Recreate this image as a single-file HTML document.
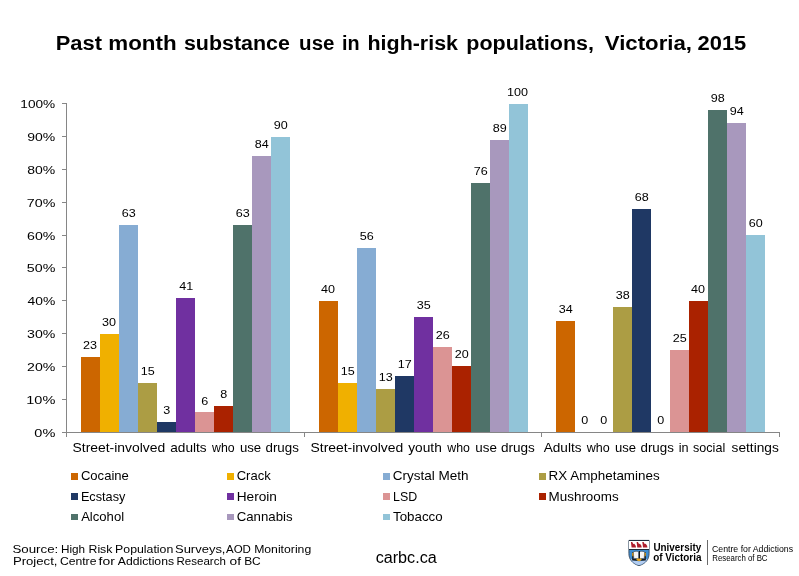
<!DOCTYPE html>
<html><head><meta charset="utf-8"><title>Past month substance use in high-risk populations, Victoria, 2015</title>
<style>
html,body{margin:0;padding:0;background:#fff;}
body{width:799px;height:576px;overflow:hidden;font-family:"Liberation Sans", sans-serif;}
svg{display:block;font-family:"Liberation Sans", sans-serif;will-change:transform;}
svg rect{shape-rendering:crispEdges;}
svg text{fill:#000;}
</style></head><body>
<svg width="799" height="576" viewBox="0 0 799 576">
<g id="axes-bars">
<rect x="66" y="103" width="1" height="334" fill="#868686"/>
<rect x="62" y="432" width="718" height="1" fill="#868686"/>
<rect x="62" y="432" width="4" height="1" fill="#868686"/>
<rect x="62" y="399" width="4" height="1" fill="#868686"/>
<rect x="62" y="366" width="4" height="1" fill="#868686"/>
<rect x="62" y="333" width="4" height="1" fill="#868686"/>
<rect x="62" y="300" width="4" height="1" fill="#868686"/>
<rect x="62" y="267" width="4" height="1" fill="#868686"/>
<rect x="62" y="235" width="4" height="1" fill="#868686"/>
<rect x="62" y="202" width="4" height="1" fill="#868686"/>
<rect x="62" y="169" width="4" height="1" fill="#868686"/>
<rect x="62" y="136" width="4" height="1" fill="#868686"/>
<rect x="62" y="103" width="4" height="1" fill="#868686"/>
<rect x="304" y="432" width="1" height="5" fill="#868686"/>
<rect x="541" y="432" width="1" height="5" fill="#868686"/>
<rect x="779" y="432" width="1" height="5" fill="#868686"/>
<rect x="81" y="357" width="19" height="75" fill="#CC6600"/>
<rect x="100" y="334" width="19" height="98" fill="#F0B000"/>
<rect x="119" y="225" width="19" height="207" fill="#86ACD3"/>
<rect x="138" y="383" width="19" height="49" fill="#AC9D44"/>
<rect x="157" y="422" width="19" height="10" fill="#1F3864"/>
<rect x="176" y="298" width="19" height="134" fill="#7030A0"/>
<rect x="195" y="412" width="19" height="20" fill="#DB9494"/>
<rect x="214" y="406" width="19" height="26" fill="#AA2200"/>
<rect x="233" y="225" width="19" height="207" fill="#4F726A"/>
<rect x="252" y="156" width="19" height="276" fill="#A898BD"/>
<rect x="271" y="137" width="19" height="295" fill="#92C4D8"/>
<rect x="319" y="301" width="19" height="131" fill="#CC6600"/>
<rect x="338" y="383" width="19" height="49" fill="#F0B000"/>
<rect x="357" y="248" width="19" height="184" fill="#86ACD3"/>
<rect x="376" y="389" width="19" height="43" fill="#AC9D44"/>
<rect x="395" y="376" width="19" height="56" fill="#1F3864"/>
<rect x="414" y="317" width="19" height="115" fill="#7030A0"/>
<rect x="433" y="347" width="19" height="85" fill="#DB9494"/>
<rect x="452" y="366" width="19" height="66" fill="#AA2200"/>
<rect x="471" y="183" width="19" height="249" fill="#4F726A"/>
<rect x="490" y="140" width="19" height="292" fill="#A898BD"/>
<rect x="509" y="104" width="19" height="328" fill="#92C4D8"/>
<rect x="556" y="321" width="19" height="111" fill="#CC6600"/>
<rect x="613" y="307" width="19" height="125" fill="#AC9D44"/>
<rect x="632" y="209" width="19" height="223" fill="#1F3864"/>
<rect x="670" y="350" width="19" height="82" fill="#DB9494"/>
<rect x="689" y="301" width="19" height="131" fill="#AA2200"/>
<rect x="708" y="110" width="19" height="322" fill="#4F726A"/>
<rect x="727" y="123" width="19" height="309" fill="#A898BD"/>
<rect x="746" y="235" width="19" height="197" fill="#92C4D8"/>
<rect x="71" y="473" width="7" height="7" fill="#CC6600"/>
<rect x="227" y="473" width="7" height="7" fill="#F0B000"/>
<rect x="383" y="473" width="7" height="7" fill="#86ACD3"/>
<rect x="539" y="473" width="7" height="7" fill="#AC9D44"/>
<rect x="71" y="493" width="7" height="7" fill="#1F3864"/>
<rect x="227" y="493" width="7" height="7" fill="#7030A0"/>
<rect x="383" y="493" width="7" height="7" fill="#DB9494"/>
<rect x="539" y="493" width="7" height="7" fill="#AA2200"/>
<rect x="71" y="514" width="7" height="6" fill="#4F726A"/>
<rect x="227" y="514" width="7" height="6" fill="#A898BD"/>
<rect x="383" y="514" width="7" height="6" fill="#92C4D8"/>
</g>
<g id="data-labels">
<text x="83.0" y="349" font-size="11.2" textLength="14" lengthAdjust="spacingAndGlyphs">23</text>
<text x="102.0" y="326" font-size="11.2" textLength="14" lengthAdjust="spacingAndGlyphs">30</text>
<text x="121.7" y="217" font-size="11.2" textLength="14" lengthAdjust="spacingAndGlyphs">63</text>
<text x="140.7" y="375" font-size="11.2" textLength="14" lengthAdjust="spacingAndGlyphs">15</text>
<text x="163.2" y="414" font-size="11.2" textLength="7" lengthAdjust="spacingAndGlyphs">3</text>
<text x="179.3" y="290" font-size="11.2" textLength="14" lengthAdjust="spacingAndGlyphs">41</text>
<text x="201.2" y="405" font-size="11.2" textLength="7" lengthAdjust="spacingAndGlyphs">6</text>
<text x="220.2" y="398" font-size="11.2" textLength="7" lengthAdjust="spacingAndGlyphs">8</text>
<text x="235.7" y="217" font-size="11.2" textLength="14" lengthAdjust="spacingAndGlyphs">63</text>
<text x="254.7" y="148" font-size="11.2" textLength="14" lengthAdjust="spacingAndGlyphs">84</text>
<text x="273.7" y="129" font-size="11.2" textLength="14" lengthAdjust="spacingAndGlyphs">90</text>
<text x="321.0" y="293" font-size="11.2" textLength="14" lengthAdjust="spacingAndGlyphs">40</text>
<text x="340.7" y="375" font-size="11.2" textLength="14" lengthAdjust="spacingAndGlyphs">15</text>
<text x="359.7" y="240" font-size="11.2" textLength="14" lengthAdjust="spacingAndGlyphs">56</text>
<text x="378.7" y="381" font-size="11.2" textLength="14" lengthAdjust="spacingAndGlyphs">13</text>
<text x="397.7" y="368" font-size="11.2" textLength="14" lengthAdjust="spacingAndGlyphs">17</text>
<text x="416.7" y="309" font-size="11.2" textLength="14" lengthAdjust="spacingAndGlyphs">35</text>
<text x="435.7" y="339" font-size="11.2" textLength="14" lengthAdjust="spacingAndGlyphs">26</text>
<text x="454.7" y="358" font-size="11.2" textLength="14" lengthAdjust="spacingAndGlyphs">20</text>
<text x="473.7" y="175" font-size="11.2" textLength="14" lengthAdjust="spacingAndGlyphs">76</text>
<text x="492.7" y="132" font-size="11.2" textLength="14" lengthAdjust="spacingAndGlyphs">89</text>
<text x="507.0" y="96" font-size="11.2" textLength="21" lengthAdjust="spacingAndGlyphs">100</text>
<text x="558.7" y="313" font-size="11.2" textLength="14" lengthAdjust="spacingAndGlyphs">34</text>
<text x="581.2" y="424" font-size="11.2" textLength="7" lengthAdjust="spacingAndGlyphs">0</text>
<text x="600.2" y="424" font-size="11.2" textLength="7" lengthAdjust="spacingAndGlyphs">0</text>
<text x="615.7" y="299" font-size="11.2" textLength="14" lengthAdjust="spacingAndGlyphs">38</text>
<text x="634.7" y="201" font-size="11.2" textLength="14" lengthAdjust="spacingAndGlyphs">68</text>
<text x="657.2" y="424" font-size="11.2" textLength="7" lengthAdjust="spacingAndGlyphs">0</text>
<text x="672.7" y="342" font-size="11.2" textLength="14" lengthAdjust="spacingAndGlyphs">25</text>
<text x="691.0" y="293" font-size="11.2" textLength="14" lengthAdjust="spacingAndGlyphs">40</text>
<text x="710.7" y="102" font-size="11.2" textLength="14" lengthAdjust="spacingAndGlyphs">98</text>
<text x="729.7" y="115" font-size="11.2" textLength="14" lengthAdjust="spacingAndGlyphs">94</text>
<text x="748.7" y="227" font-size="11.2" textLength="14" lengthAdjust="spacingAndGlyphs">60</text>
</g>
<g id="labels">
<text x="55.70" y="49.5" font-size="20" font-weight="bold" textLength="46.25" lengthAdjust="spacingAndGlyphs">Past</text>
<text x="108.25" y="49.5" font-size="20" font-weight="bold" textLength="68.30" lengthAdjust="spacingAndGlyphs">month</text>
<text x="183.95" y="49.5" font-size="20" font-weight="bold" textLength="106.01" lengthAdjust="spacingAndGlyphs">substance</text>
<text x="299.10" y="49.5" font-size="20" font-weight="bold" textLength="35.36" lengthAdjust="spacingAndGlyphs">use</text>
<text x="341.90" y="49.5" font-size="20" font-weight="bold" textLength="17.59" lengthAdjust="spacingAndGlyphs">in</text>
<text x="367.50" y="49.5" font-size="20" font-weight="bold" textLength="90.50" lengthAdjust="spacingAndGlyphs">high-risk</text>
<text x="466.25" y="49.5" font-size="20" font-weight="bold" textLength="127.75" lengthAdjust="spacingAndGlyphs">populations,</text>
<text x="604.75" y="49.5" font-size="20" font-weight="bold" textLength="87.25" lengthAdjust="spacingAndGlyphs">Victoria,</text>
<text x="697.51" y="49.5" font-size="20" font-weight="bold" textLength="48.78" lengthAdjust="spacingAndGlyphs">2015</text>
<text x="34.30" y="436.6" font-size="11.2" textLength="21.00" lengthAdjust="spacingAndGlyphs">0%</text>
<text x="26.29" y="403.6" font-size="11.2" textLength="29.07" lengthAdjust="spacingAndGlyphs">10%</text>
<text x="27.05" y="370.6" font-size="11.2" textLength="28.26" lengthAdjust="spacingAndGlyphs">20%</text>
<text x="27.05" y="337.6" font-size="11.2" textLength="28.26" lengthAdjust="spacingAndGlyphs">30%</text>
<text x="27.55" y="304.6" font-size="11.2" textLength="27.74" lengthAdjust="spacingAndGlyphs">40%</text>
<text x="26.80" y="271.6" font-size="11.2" textLength="28.53" lengthAdjust="spacingAndGlyphs">50%</text>
<text x="27.05" y="239.6" font-size="11.2" textLength="28.26" lengthAdjust="spacingAndGlyphs">60%</text>
<text x="26.80" y="206.6" font-size="11.2" textLength="28.53" lengthAdjust="spacingAndGlyphs">70%</text>
<text x="27.30" y="173.6" font-size="11.2" textLength="28.00" lengthAdjust="spacingAndGlyphs">80%</text>
<text x="27.30" y="140.6" font-size="11.2" textLength="28.00" lengthAdjust="spacingAndGlyphs">90%</text>
<text x="20.35" y="107.6" font-size="11.2" textLength="34.88" lengthAdjust="spacingAndGlyphs">100%</text>
<text x="72.50" y="451.7" font-size="12.2" textLength="92.80" lengthAdjust="spacingAndGlyphs">Street-involved</text>
<text x="170.30" y="451.7" font-size="12.2" textLength="36.36" lengthAdjust="spacingAndGlyphs">adults</text>
<text x="212.00" y="451.7" font-size="12.2" textLength="22.59" lengthAdjust="spacingAndGlyphs">who</text>
<text x="239.95" y="451.7" font-size="12.2" textLength="21.24" lengthAdjust="spacingAndGlyphs">use</text>
<text x="265.50" y="451.7" font-size="12.2" textLength="33.36" lengthAdjust="spacingAndGlyphs">drugs</text>
<text x="310.50" y="451.7" font-size="12.2" textLength="92.80" lengthAdjust="spacingAndGlyphs">Street-involved</text>
<text x="408.25" y="451.7" font-size="12.2" textLength="33.54" lengthAdjust="spacingAndGlyphs">youth</text>
<text x="447.30" y="451.7" font-size="12.2" textLength="22.59" lengthAdjust="spacingAndGlyphs">who</text>
<text x="475.25" y="451.7" font-size="12.2" textLength="21.60" lengthAdjust="spacingAndGlyphs">use</text>
<text x="500.90" y="451.7" font-size="12.2" textLength="33.86" lengthAdjust="spacingAndGlyphs">drugs</text>
<text x="543.75" y="451.7" font-size="12.2" textLength="37.74" lengthAdjust="spacingAndGlyphs">Adults</text>
<text x="586.70" y="451.7" font-size="12.2" textLength="22.99" lengthAdjust="spacingAndGlyphs">who</text>
<text x="614.95" y="451.7" font-size="12.2" textLength="21.05" lengthAdjust="spacingAndGlyphs">use</text>
<text x="640.50" y="451.7" font-size="12.2" textLength="33.36" lengthAdjust="spacingAndGlyphs">drugs</text>
<text x="678.65" y="451.7" font-size="12.2" textLength="9.88" lengthAdjust="spacingAndGlyphs">in</text>
<text x="693.10" y="451.7" font-size="12.2" textLength="32.10" lengthAdjust="spacingAndGlyphs">social</text>
<text x="731.55" y="451.7" font-size="12.2" textLength="47.26" lengthAdjust="spacingAndGlyphs">settings</text>
<text x="80.90" y="479.7" font-size="12.2" textLength="47.95" lengthAdjust="spacingAndGlyphs">Cocaine</text>
<text x="236.70" y="479.7" font-size="12.2" textLength="33.99" lengthAdjust="spacingAndGlyphs">Crack</text>
<text x="392.80" y="479.7" font-size="12.2" textLength="75.80" lengthAdjust="spacingAndGlyphs">Crystal Meth</text>
<text x="548.60" y="479.7" font-size="12.2" textLength="111.00" lengthAdjust="spacingAndGlyphs">RX Amphetamines</text>
<text x="80.90" y="500.55" font-size="12.2" textLength="44.44" lengthAdjust="spacingAndGlyphs">Ecstasy</text>
<text x="236.70" y="500.55" font-size="12.2" textLength="40.25" lengthAdjust="spacingAndGlyphs">Heroin</text>
<text x="393.05" y="500.55" font-size="12.2" textLength="24.15" lengthAdjust="spacingAndGlyphs">LSD</text>
<text x="548.60" y="500.55" font-size="12.2" textLength="70.05" lengthAdjust="spacingAndGlyphs">Mushrooms</text>
<text x="81.15" y="520.55" font-size="12.2" textLength="42.94" lengthAdjust="spacingAndGlyphs">Alcohol</text>
<text x="236.70" y="520.55" font-size="12.2" textLength="55.90" lengthAdjust="spacingAndGlyphs">Cannabis</text>
<text x="393.05" y="520.55" font-size="12.2" textLength="49.65" lengthAdjust="spacingAndGlyphs">Tobacco</text>
<text x="12.40" y="552.7" font-size="11.2" textLength="45.87" lengthAdjust="spacingAndGlyphs">Source:</text>
<text x="60.95" y="552.7" font-size="11.2" textLength="24.14" lengthAdjust="spacingAndGlyphs">High</text>
<text x="88.50" y="552.7" font-size="11.2" textLength="23.94" lengthAdjust="spacingAndGlyphs">Risk</text>
<text x="115.10" y="552.7" font-size="11.2" textLength="58.20" lengthAdjust="spacingAndGlyphs">Population</text>
<text x="175.00" y="552.7" font-size="11.2" textLength="50.49" lengthAdjust="spacingAndGlyphs">Surveys,</text>
<text x="226.00" y="552.7" font-size="11.2" textLength="24.94" lengthAdjust="spacingAndGlyphs">AOD</text>
<text x="254.15" y="552.7" font-size="11.2" textLength="57.04" lengthAdjust="spacingAndGlyphs">Monitoring</text>
<text x="12.90" y="564.5" font-size="11.2" textLength="44.61" lengthAdjust="spacingAndGlyphs">Project,</text>
<text x="59.90" y="564.5" font-size="11.2" textLength="36.55" lengthAdjust="spacingAndGlyphs">Centre</text>
<text x="98.50" y="564.5" font-size="11.2" textLength="16.29" lengthAdjust="spacingAndGlyphs">for</text>
<text x="117.75" y="564.5" font-size="11.2" textLength="56.30" lengthAdjust="spacingAndGlyphs">Addictions</text>
<text x="176.50" y="564.5" font-size="11.2" textLength="49.30" lengthAdjust="spacingAndGlyphs">Research</text>
<text x="229.50" y="564.5" font-size="11.2" textLength="11.48" lengthAdjust="spacingAndGlyphs">of</text>
<text x="244.15" y="564.5" font-size="11.2" textLength="16.55" lengthAdjust="spacingAndGlyphs">BC</text>
<text x="375.65" y="562.6" font-size="15.6" textLength="61.10" lengthAdjust="spacingAndGlyphs">carbc.ca</text>
<text x="653.45" y="550.9" font-size="10.6" font-weight="bold" fill="#111" textLength="47.79" lengthAdjust="spacingAndGlyphs">University</text>
<text x="653.20" y="560.7" font-size="10.6" font-weight="bold" fill="#111" textLength="48.30" lengthAdjust="spacingAndGlyphs">of Victoria</text>
<text x="712.00" y="551.7" font-size="8.8" fill="#333" textLength="81.10" lengthAdjust="spacingAndGlyphs">Centre for Addictions</text>
<text x="712.25" y="560.5" font-size="8.8" fill="#333" textLength="55.25" lengthAdjust="spacingAndGlyphs">Research of BC</text>
</g>
<g id="logo">
<!-- shield -->
<path d="M628.9 540.4 H649.1 V553.5 C649.1 559.5 645.5 563.6 639 565.7 C632.5 563.6 628.9 559.5 628.9 553.5 Z" fill="#3d8cd0" stroke="#3a4a5c" stroke-width="0.9"/>
<path d="M630.4 558.2 C633 560.4 636 561.2 639 561.2 C642 561.2 645 560.4 647.6 558.2 C646.2 562 643 564 639 565.2 C635 564 631.8 562 630.4 558.2 Z" fill="#b3cdf1"/>
<rect x="629.4" y="540.9" width="19.2" height="8" fill="#ffffff"/>
<rect x="628.6" y="540" width="20.8" height="0.9" fill="#1f2c3c"/>
<rect x="629" y="548.6" width="20" height="0.9" fill="#1b2838"/>
<!-- martlets -->
<g fill="#ae1e2d">
<path d="M630.9 542 L632.2 542 L633.3 543.9 L634.3 543.7 L635.7 545.7 L636 547.5 L631.6 547.5 Z"/>
<path d="M636.6 542 L637.9 542 L639 543.9 L640 543.7 L641.4 545.7 L641.7 547.5 L637.3 547.5 Z"/>
<path d="M642.3 542 L643.6 542 L644.7 543.9 L645.7 543.7 L647.1 545.7 L647.4 547.5 L643 547.5 Z"/>
</g>
<!-- book -->
<path d="M632.1 552.6 L633.2 552.2 L633.5 558.8 L638.2 559.5 L639.8 559.5 L644.5 558.8 L644.8 552.2 L645.9 552.6 L645.8 560.4 L639.8 560.8 L638.2 560.8 L632.2 560.4 Z" fill="#15191f"/>
<path d="M633.3 552.1 C635 551 637 550.9 638.6 551.7 L638.6 559 C637 558.4 635.4 558.4 633.8 558.8 Z" fill="#f6f6f6" stroke="#15191f" stroke-width="0.5"/>
<path d="M644.7 552.1 C643 551 641 550.9 639.4 551.7 L639.4 559 C641 558.4 642.6 558.4 644.2 558.8 Z" fill="#f6f6f6" stroke="#15191f" stroke-width="0.5"/>
<rect x="638.5" y="551.2" width="1" height="7.9" fill="#15191f"/>
<path d="M632.1 552.9 L633.3 552.4 L633.5 556.2 L632.4 556.2 Z" fill="#e8a41c"/>
<path d="M645.9 552.9 L644.7 552.4 L644.5 556.2 L645.6 556.2 Z" fill="#e8a41c"/>
<path d="M636.2 559.1 L637.8 558.2 L639 558.8 L640.2 558.2 L641.8 559.1 L640.9 560.6 L639 561.3 L637.1 560.6 Z" fill="#e8a41c"/>
<rect x="707" y="540" width="1" height="25.4" fill="#6a6a6a"/>
</g>

</svg>
</body></html>
